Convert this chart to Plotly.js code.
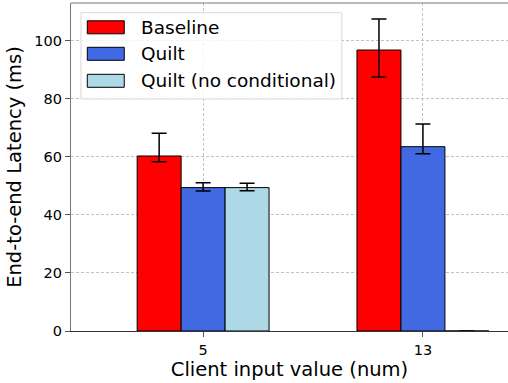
<!DOCTYPE html>
<html>
<head>
<meta charset="utf-8">
<script src="https://cdn.plot.ly/plotly-3.0.1.min.js"></script>
<style>
html,body{margin:0;padding:0;background:#fff;overflow:hidden;}
#chart{width:508px;height:383px;}
</style>
</head>
<body>
<div id="chart"></div>
<script>
// ---- data ----
const categories = ["5", "13"];
const seriesNames = ["Baseline", "Quilt", "Quilt (no conditional)"];
const baseline = [60.3, 96.8];
const baselineErrPlus = [7.8, 10.7];
const baselineErrMinus = [2.0, 9.3];
const quilt = [49.4, 63.5];
const quiltErrPlus = [1.7, 7.8];
const quiltErrMinus = [1.2, 2.4];
const quiltNoCond = [49.4, 0];
const quiltNoCondErrPlus = [1.5, 0];
const quiltNoCondErrMinus = [1.1, 0];
const yTicks = [0, 20, 40, 60, 80, 100];

const colors = ["#ff0000", "#4169e1", "#add8e6"];
const values = [baseline, quilt, quiltNoCond];
const errPlus = [baselineErrPlus, quiltErrPlus, quiltNoCondErrPlus];
const errMinus = [baselineErrMinus, quiltErrMinus, quiltNoCondErrMinus];

const FONT = "DejaVu Sans, sans-serif";

const traces = seriesNames.map((name, i) => ({
  type: "bar",
  name: name,
  x: categories,
  y: values[i],
  marker: {color: colors[i], line: {color: "#000", width: 1}},
  error_y: {type: "data", symmetric: false, array: errPlus[i], arrayminus: errMinus[i],
            color: "#000", thickness: 1.5, width: 7.5},
  showlegend: false
}));

// plot area in pixels
const L = 70.7, R = 508, T = 3, B = 331;
const W = 508, H = 383;
const px = x => (x - L) / (R - L);
const py = y => (B - y) / (B - T);

const shapes = [
  // top spine
  {type: "line", xref: "paper", yref: "paper", x0: 0, x1: 1, y0: 1, y1: 1,
   line: {color: "#777", width: 1.2}},
  // legend box
  {type: "rect", xref: "paper", yref: "paper", x0: px(80.7), x1: px(341.7), y0: py(99), y1: py(12.7),
   line: {color: "#d9d9d9", width: 1}, fillcolor: "rgba(255,255,255,0.8)", layer: "above"}
];
const annotations = [];
const rowY = [27.3, 53.8, 80.8];
seriesNames.forEach((name, i) => {
  shapes.push({type: "rect", xref: "paper", yref: "paper",
    x0: px(87), x1: px(124), y0: py(rowY[i] + 6.5), y1: py(rowY[i] - 6.5),
    line: {color: "#000", width: 1}, fillcolor: colors[i], layer: "above"});
  annotations.push({xref: "paper", yref: "paper", x: px(138.5), y: py(rowY[i]),
    xanchor: "left", yanchor: "middle", text: name, showarrow: false,
    font: {family: FONT, size: 18.5, color: "#000"}});
});

const layout = {
  width: W, height: H,
  margin: {l: L, r: W - R, t: T, b: H - B, pad: 0},
  paper_bgcolor: "#fff", plot_bgcolor: "#fff",
  barmode: "group", bargap: 0.4, bargroupgap: 0,
  font: {family: FONT, color: "#000"},
  xaxis: {
    type: "category", range: [-0.601, 1.387],
    showline: true, linecolor: "#333", linewidth: 1.2,
    ticks: "outside", ticklen: 5, tickcolor: "#555", tickwidth: 1,
    tickfont: {family: FONT, size: 14.5, color: "#000"},
    showgrid: true, gridcolor: "#bdbdbd", griddash: "3px,2px", gridwidth: 0.9,
    zeroline: false,
    title: {text: "Client input value (num)", font: {family: FONT, size: 19.5, color: "#000"}, standoff: 4}
  },
  yaxis: {
    range: [0, 113], tickvals: yTicks, ticktext: yTicks.map(String),
    showline: true, linecolor: "#777", linewidth: 1.2,
    ticks: "outside", ticklen: 5, tickcolor: "#555", tickwidth: 1,
    tickfont: {family: FONT, size: 14.5, color: "#000"},
    showgrid: true, gridcolor: "#bdbdbd", griddash: "3px,2px", gridwidth: 0.9,
    zeroline: false,
    title: {text: "End-to-end Latency (ms)", font: {family: FONT, size: 19.5, color: "#000"}, standoff: 7}
  },
  shapes: shapes,
  annotations: annotations,
  showlegend: false
};

Plotly.newPlot("chart", traces, layout, {displayModeBar: false, staticPlot: true});
</script>
</body>
</html>
